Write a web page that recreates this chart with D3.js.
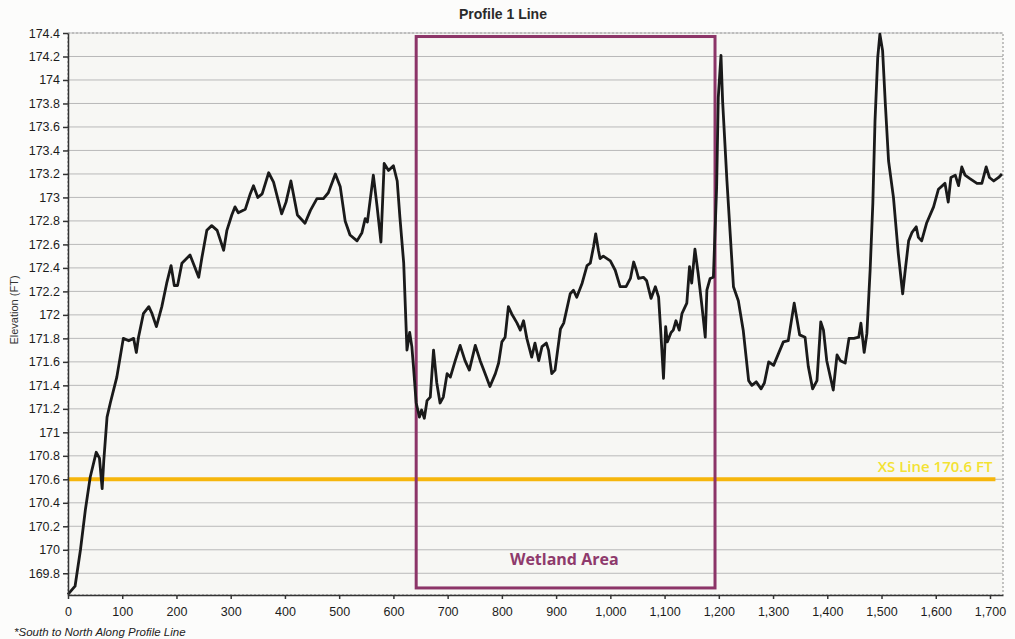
<!DOCTYPE html>
<html>
<head>
<meta charset="utf-8">
<script src="https://cdn.jsdelivr.net/npm/d3@7"></script>
<style>
  body { margin: 0; background: #fcfcfb; }
  svg { display: block; }
</style>
</head>
<body>
<script>
// distance along profile (ft)
let distance = [0, 13, 23, 32, 41, 52, 58, 63, 66, 72, 78, 90, 102, 112, 121, 126, 130, 139, 149, 155, 163, 173, 182, 190, 196, 202, 210, 225, 231, 241, 247, 256, 265, 275, 287, 293, 302, 308, 314, 327, 336, 342, 350, 358, 370, 379, 394, 402, 411, 423, 437, 447, 459, 471, 480, 493, 502, 511, 520, 533, 542, 548, 552, 563, 570, 577, 583, 591, 600, 607, 612, 619, 625, 630, 634, 637, 642, 648, 652, 657, 662, 668, 674, 680, 686, 692, 699, 705, 714, 723, 732, 740, 751, 760, 769, 778, 788, 794, 800, 806, 812, 818, 828, 834, 840, 846, 855, 861, 868, 874, 882, 886, 892, 898, 908, 914, 926, 932, 938, 948, 957, 963, 969, 973, 978, 981, 987, 1000, 1009, 1018, 1029, 1037, 1043, 1048, 1052, 1061, 1067, 1075, 1083, 1089, 1092, 1095, 1098, 1102, 1105, 1112, 1116, 1121, 1127, 1132, 1141, 1146, 1150, 1156, 1162, 1169, 1175, 1178, 1184, 1190, 1196, 1199, 1204, 1207, 1215, 1221, 1227, 1236, 1245, 1255, 1261, 1269, 1278, 1284, 1292, 1301, 1310, 1319, 1328, 1339, 1349, 1359, 1365, 1373, 1381, 1388, 1393, 1399, 1411, 1418, 1424, 1433, 1440, 1449, 1458, 1462, 1468, 1473, 1479, 1484, 1488, 1493, 1497, 1502, 1507, 1513, 1522, 1531, 1539, 1543, 1550, 1556, 1564, 1568, 1574, 1583, 1596, 1605, 1617, 1623, 1628, 1636, 1642, 1648, 1654, 1663, 1676, 1685, 1693, 1699, 1707, 1716, 1722];

// elevation (ft)
let elevation = [169.62, 169.69, 170.0, 170.34, 170.62, 170.83, 170.78, 170.52, 170.76, 171.13, 171.25, 171.47, 171.8, 171.78, 171.8, 171.68, 171.81, 172.01, 172.07, 172.01, 171.9, 172.07, 172.27, 172.42, 172.25, 172.25, 172.44, 172.51, 172.44, 172.32, 172.49, 172.72, 172.76, 172.72, 172.55, 172.72, 172.85, 172.92, 172.87, 172.9, 173.03, 173.1, 173.0, 173.03, 173.21, 173.13, 172.86, 172.96, 173.14, 172.85, 172.78, 172.89, 172.99, 172.99, 173.04, 173.2, 173.09, 172.8, 172.68, 172.63, 172.7, 172.82, 172.79, 173.19, 172.92, 172.62, 173.29, 173.23, 173.27, 173.14, 172.83, 172.44, 171.7, 171.85, 171.73, 171.56, 171.25, 171.13, 171.19, 171.12, 171.27, 171.3, 171.7, 171.42, 171.25, 171.3, 171.5, 171.47, 171.61, 171.74, 171.61, 171.53, 171.74, 171.61, 171.5, 171.39, 171.5, 171.59, 171.77, 171.81, 172.07, 172.01, 171.93, 171.87, 171.95, 171.8, 171.64, 171.76, 171.61, 171.73, 171.76, 171.7, 171.5, 171.53, 171.88, 171.93, 172.18, 172.21, 172.15, 172.27, 172.42, 172.44, 172.58, 172.69, 172.55, 172.48, 172.5, 172.46, 172.38, 172.24, 172.24, 172.31, 172.45, 172.38, 172.31, 172.32, 172.29, 172.14, 172.24, 172.15, 171.93, 171.7, 171.46, 171.9, 171.77, 171.85, 171.87, 171.95, 171.87, 172.01, 172.1, 172.41, 172.27, 172.56, 172.35, 172.07, 171.81, 172.21, 172.31, 172.32, 173.09, 173.85, 174.21, 173.82, 173.14, 172.69, 172.24, 172.12, 171.87, 171.44, 171.4, 171.43, 171.37, 171.42, 171.6, 171.57, 171.67, 171.77, 171.78, 172.1, 171.83, 171.81, 171.56, 171.37, 171.44, 171.94, 171.87, 171.61, 171.36, 171.66, 171.61, 171.59, 171.8, 171.8, 171.81, 171.93, 171.68, 171.84, 172.38, 172.95, 173.65, 174.19, 174.39, 174.25, 173.8, 173.31, 173.0, 172.52, 172.18, 172.35, 172.63, 172.7, 172.75, 172.66, 172.63, 172.78, 172.92, 173.07, 173.12, 172.96, 173.17, 173.19, 173.1, 173.26, 173.19, 173.16, 173.12, 173.12, 173.26, 173.17, 173.14, 173.17, 173.2];

let xTicks = [0, 100, 200, 300, 400, 500, 600, 700, 800, 900, 1000, 1100, 1200, 1300, 1400, 1500, 1600, 1700];
let yTicks = [169.8, 170, 170.2, 170.4, 170.6, 170.8, 171, 171.2, 171.4, 171.6, 171.8, 172, 172.2, 172.4, 172.6, 172.8, 173, 173.2, 173.4, 173.6, 173.8, 174, 174.2, 174.4];

let xDomain = [0, 1724];
let yDomain = [169.615, 174.4];

// annotations
let xsLevel = 170.6;
let xsExtent = [0, 1710];
let xsLabel = "XS Line 170.6 FT";
let wetlandX = [642, 1193];
let wetlandY = [169.675, 174.37];
let wetlandLabel = "Wetland Area";
let wetlandLabelAt = [915, 169.87];

let title = "Profile 1 Line";
let yTitle = "Elevation (FT)";
let footnote = "*South to North Along Profile Line";

let width = 1015;
let height = 639;
let margin = ({top: 33, right: 12, bottom: 44, left: 68});

let points = distance.map((d, i) => ({dist: d, elev: elevation[i]}));

let x = d3.scaleLinear()
  .domain(xDomain)
  .range([margin.left, width - margin.right]);

let y = d3.scaleLinear()
  .domain(yDomain)
  .range([height - margin.bottom, margin.top]);

let svg = d3.select("body")
  .append("svg")
  .attr("width", width)
  .attr("height", height)
  .style("font-family", "'Liberation Sans', Arial, sans-serif");

// plot background
svg.append("rect")
  .attr("x", x(xDomain[0]))
  .attr("y", y(yDomain[1]))
  .attr("width", x(xDomain[1]) - x(xDomain[0]))
  .attr("height", y(yDomain[0]) - y(yDomain[1]))
  .attr("fill", "#f7f7f4")
  .attr("stroke", "#8a8a8a")
  .attr("stroke-dasharray", "2,2");

// gridlines
svg.append("g")
  .selectAll("line")
  .data(yTicks)
  .join("line")
    .attr("x1", x(xDomain[0]))
    .attr("x2", x(xDomain[1]))
    .attr("y1", d => y(d))
    .attr("y2", d => y(d))
    .attr("stroke", "#b9b9b9")
    .attr("stroke-width", 1);

// XS line
svg.append("line")
  .attr("x1", x(xsExtent[0]))
  .attr("x2", x(xsExtent[1]))
  .attr("y1", y(xsLevel))
  .attr("y2", y(xsLevel))
  .attr("stroke", "#f6b60c")
  .attr("stroke-width", 4);

svg.append("text")
  .attr("x", x(xsExtent[1]) - 3)
  .attr("y", y(xsLevel) - 7)
  .attr("text-anchor", "end")
  .attr("fill", "#f3e232")
  .style("font-family", "'Open Sans', sans-serif")
  .style("font-weight", "600")
  .style("font-size", "15px")
  .text(xsLabel);

// wetland box
svg.append("rect")
  .attr("x", x(wetlandX[0]))
  .attr("y", y(wetlandY[1]))
  .attr("width", x(wetlandX[1]) - x(wetlandX[0]))
  .attr("height", y(wetlandY[0]) - y(wetlandY[1]))
  .attr("fill", "none")
  .attr("stroke", "#8c3568")
  .attr("stroke-width", 3);

svg.append("text")
  .attr("x", x(wetlandLabelAt[0]))
  .attr("y", y(wetlandLabelAt[1]))
  .attr("text-anchor", "middle")
  .attr("fill", "#8e3a6c")
  .style("font-family", "'Open Sans', sans-serif")
  .style("font-weight", "bold")
  .style("font-size", "16px")
  .text(wetlandLabel);

// profile line
let line = d3.line()
  .x(d => x(d.dist))
  .y(d => y(d.elev));

svg.append("path")
  .datum(points)
  .attr("fill", "none")
  .attr("stroke", "#1a1a1a")
  .attr("stroke-width", 2.8)
  .attr("stroke-linejoin", "round")
  .attr("d", line);

// axes
let xAxis = g => g
  .attr("transform", `translate(0,${height - margin.bottom})`)
  .call(d3.axisBottom(x).tickValues(xTicks).tickFormat(d3.format(",")).tickSize(4).tickSizeOuter(0))
  .call(g => g.selectAll("text").attr("dy", "1.1em"));

let yAxis = g => g
  .attr("transform", `translate(${margin.left},0)`)
  .call(d3.axisLeft(y).tickValues(yTicks).tickFormat(d => String(+d.toFixed(1))).tickSize(5).tickSizeOuter(0));

svg.append("g").call(xAxis);
svg.append("g").call(yAxis);

svg.selectAll(".tick text")
  .style("font-size", "12.5px")
  .attr("fill", "#1c1c1c");
svg.selectAll(".domain, .tick line")
  .attr("stroke", "#333")
  .attr("stroke-width", 1.5);

// titles
svg.append("text")
  .attr("x", 503)
  .attr("y", 19)
  .attr("text-anchor", "middle")
  .attr("fill", "#2a2a2a")
  .style("font-weight", "bold")
  .style("font-size", "14px")
  .text(title);

svg.append("text")
  .attr("transform", "translate(18,310) rotate(-90)")
  .attr("text-anchor", "middle")
  .attr("fill", "#333")
  .style("font-size", "11px")
  .text(yTitle);

svg.append("text")
  .attr("x", 14)
  .attr("y", 636)
  .attr("fill", "#222")
  .style("font-style", "italic")
  .style("font-size", "11.5px")
  .text(footnote);
</script>
</body>
</html>
